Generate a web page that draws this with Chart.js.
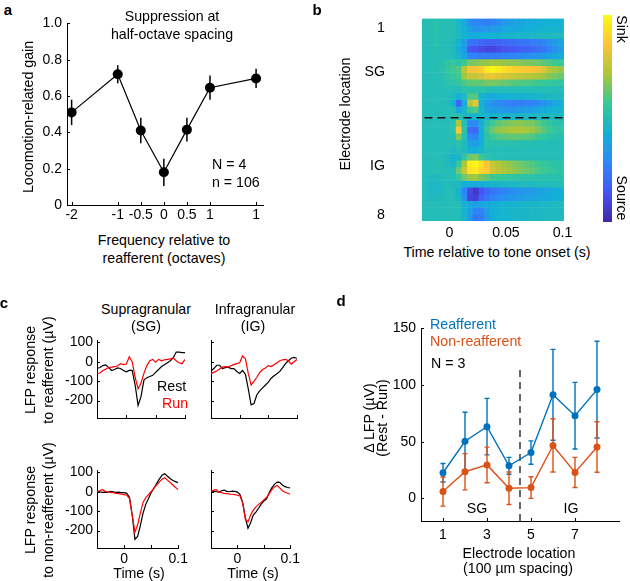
<!DOCTYPE html>
<html><head><meta charset="utf-8">
<script src="https://cdn.jsdelivr.net/npm/chart.js@4/dist/chart.umd.min.js"></script>
<style>
html,body{margin:0;padding:0;background:#fff;}
#root{position:relative;width:630px;height:581px;overflow:hidden;font-family:"Liberation Sans",Arial,Helvetica,sans-serif;color:#000;}
canvas{position:absolute;}
.t{position:absolute;white-space:nowrap;font-size:14.2px;line-height:1;transform:translate(-50%,-50%);z-index:5;}
.l{transform:translate(0,-50%);}
.rot{transform:translate(-50%,-50%) rotate(-90deg);}
.rotcw{transform:translate(-50%,-50%) rotate(90deg);}
.b{font-weight:bold;font-size:15px;}
</style></head><body><div id="root">
<div class="t b" style="left:8px;top:9px">a</div>
<div class="t" style="left:172px;top:15.5px">Suppression at</div>
<div class="t" style="left:172px;top:33.5px">half-octave spacing</div>
<div class="t l" style="left:212px;top:164px">N = 4</div>
<div class="t l" style="left:212px;top:182px">n = 106</div>
<div class="t rot" style="left:27.5px;top:117px">Locomotion-related gain</div>
<div class="t" style="left:164px;top:240px">Frequency relative to</div>
<div class="t" style="left:164px;top:258px">reafferent (octaves)</div>

<div class="t b" style="left:317px;top:9px">b</div>
<div class="t rot" style="left:345px;top:113.5px">Electrode location</div>
<div class="t" style="left:497px;top:252px">Time relative to tone onset (s)</div>
<div class="t rotcw" style="left:622px;top:29px">Sink</div>
<div class="t rotcw" style="left:622px;top:198px">Source</div>

<div class="t b" style="left:4px;top:302px">c</div>
<div class="t" style="left:146px;top:309px">Supragranular</div>
<div class="t" style="left:146px;top:326px">(SG)</div>
<div class="t" style="left:255px;top:309px">Infragranular</div>
<div class="t" style="left:253px;top:326px">(IG)</div>
<div class="t rot" style="left:30px;top:370px">LFP response</div>
<div class="t rot" style="left:48px;top:370px">to reafferent (µV)</div>
<div class="t rot" style="left:30px;top:510px">LFP response</div>
<div class="t rot" style="left:48px;top:510px">to non-reafferent (µV)</div>
<div class="t l" style="left:157px;top:386px">Rest</div>
<div class="t l" style="left:162px;top:403px;color:#ff0000">Run</div>
<div class="t" style="left:139px;top:573px">Time (s)</div>
<div class="t" style="left:253px;top:573px">Time (s)</div>

<div class="t b" style="left:341px;top:300px">d</div>
<div class="t l" style="left:430px;top:323.5px;color:#0072BD">Reafferent</div>
<div class="t l" style="left:430px;top:341px;color:#D95319">Non-reafferent</div>
<div class="t l" style="left:431px;top:363px">N = 3</div>
<div class="t" style="left:477px;top:508px">SG</div>
<div class="t" style="left:571px;top:508px">IG</div>
<div class="t rot" style="left:369px;top:418px">Δ LFP (µV)</div>
<div class="t rot" style="left:381.5px;top:418px">(Rest - Run)</div>
<div class="t" style="left:519px;top:552.5px">Electrode location</div>
<div class="t" style="left:518px;top:568px">(100 µm spacing)</div>
</div>
<script>
// ---------- Panel a data ----------
const aOctaves = [-2, -1, -0.5, 0, 0.5, 1, 2];
const aXTickLabels = ['-2', '-1', '-0.5', '0', '0.5', '1', '1'];
const aGain = [0.51, 0.72, 0.41, 0.18, 0.415, 0.646, 0.697];
const aGainErr = [0.07, 0.05, 0.07, 0.075, 0.065, 0.067, 0.053];
const aYTicks = [0, 0.2, 0.4, 0.6, 0.8, 1.0];
const aYTickLabels = ['0', '0.2', '0.4', '0.6', '0.8', '1.0'];

// ---------- Panel b data (CSD, 30 depth rows x 25 time bins, 0 = source ... 10 = sink) ----------
const csdTimes = [-0.0215,-0.0165,-0.0115,-0.0065,-0.0015,0.0035,0.0085,0.0135,0.0185,0.0235,0.0285,0.0335,0.0385,0.0435,0.0485,0.0535,0.0585,0.0635,0.0685,0.0735,0.0785,0.0835,0.0885,0.0935,0.0985];
const csdMatrix = [
 [5.0,5.1,5.3,5.0,5.1,5.0,4.6,4.0,3.0,2.8,2.8,2.6,2.8,3.0,3.4,3.6,3.8,3.8,4.0,4.0,4.2,4.2,4.3,4.3,4.4],
 [5.0,5.1,5.3,5.0,5.1,5.0,4.7,4.2,3.5,3.3,3.3,3.4,3.5,3.6,3.9,4.0,4.0,4.1,4.2,4.3,4.4,4.4,4.5,4.5,4.5],
 [5.0,5.1,5.2,5.0,5.1,5.0,4.8,4.4,4.2,4.2,4.3,4.3,4.4,4.4,4.5,4.5,4.6,4.6,4.6,4.7,4.7,4.8,4.8,4.8,4.8],
 [5.0,5.0,5.2,5.0,5.1,4.9,4.4,3.6,2.4,2.2,2.0,1.8,1.8,1.9,2.0,2.1,2.2,2.3,2.4,2.5,2.6,2.8,3.2,3.5,3.8],
 [5.0,5.0,5.1,5.0,5.0,4.8,4.2,3.4,1.6,1.4,1.2,1.0,1.0,1.2,1.4,1.5,1.6,1.8,1.9,2.0,2.2,2.4,2.8,3.2,3.5],
 [5.0,5.0,5.1,5.0,5.0,4.9,4.5,3.8,2.8,2.7,2.6,2.5,2.5,2.6,2.7,2.8,2.9,3.0,3.1,3.2,3.3,3.5,3.7,3.9,4.1],
 [5.0,5.0,5.1,5.1,5.4,5.6,5.4,5.8,6.5,6.6,6.8,6.9,7.0,7.0,6.9,6.8,6.8,6.7,6.6,6.5,6.4,6.2,6.0,5.8,5.7],
 [5.0,5.0,5.1,5.2,5.5,5.8,6.0,7.4,8.5,8.6,8.8,9.6,9.9,9.6,9.3,9.1,8.9,8.8,8.7,8.6,8.4,8.0,7.4,7.1,6.9],
 [5.0,5.0,5.1,5.1,5.4,5.6,5.8,7.0,7.6,7.6,7.8,8.2,8.3,8.1,7.9,7.8,7.6,7.5,7.4,7.3,7.2,7.0,6.7,6.5,6.3],
 [5.0,5.0,5.0,5.0,5.3,5.3,5.5,6.0,6.2,6.2,6.3,6.5,6.5,6.4,6.3,6.2,6.1,6.0,6.0,5.9,5.8,5.7,5.6,5.5,5.5],
 [5.0,5.0,5.0,5.0,5.0,5.0,5.0,5.3,5.3,5.3,5.3,5.1,5.0,5.0,5.0,5.0,5.0,5.0,5.0,5.0,5.0,5.0,5.0,5.0,5.0],
 [5.0,5.0,5.0,5.0,5.0,4.8,4.3,4.8,6.0,6.0,4.4,4.2,4.2,4.3,4.3,4.4,4.4,4.4,4.5,4.5,4.6,4.6,4.7,4.8,4.8],
 [5.0,5.0,5.0,5.0,4.9,4.4,1.8,4.0,7.4,8.2,4.3,3.6,3.2,3.0,2.8,2.7,2.6,2.6,2.7,2.8,3.0,3.3,3.6,3.9,4.2],
 [5.0,5.0,5.0,5.0,5.0,5.0,3.8,4.6,5.8,6.0,4.6,3.8,3.6,3.5,3.4,3.4,3.4,3.5,3.6,3.7,3.9,4.1,4.3,4.4,4.5],
 [5.0,5.0,5.0,5.0,5.0,5.2,5.2,4.8,4.4,4.4,4.6,4.5,4.5,4.5,4.6,4.6,4.6,4.6,4.7,4.7,4.7,4.8,4.8,4.8,4.8],
 [5.0,5.0,5.0,5.0,5.0,5.2,7.2,5.0,3.0,3.0,4.2,5.2,5.8,6.2,6.4,6.6,6.7,6.7,6.6,6.5,6.2,5.8,5.5,5.3,5.2],
 [5.0,5.0,5.0,5.0,5.0,5.3,8.6,5.4,2.2,2.0,4.0,5.6,6.4,6.8,7.0,7.1,7.2,7.2,7.1,6.9,6.6,6.2,5.8,5.5,5.4],
 [5.0,5.0,5.0,5.0,5.0,5.1,6.6,5.0,3.0,2.8,4.2,5.3,5.8,6.0,6.1,6.2,6.2,6.2,6.1,6.0,5.7,5.5,5.3,5.2,5.1],
 [5.0,5.0,5.0,5.0,5.0,5.0,5.3,4.8,3.8,3.6,4.2,5.2,5.2,5.2,5.2,5.2,5.2,5.1,5.1,5.1,5.0,5.0,5.0,5.0,5.0],
 [5.0,5.0,5.0,5.0,5.0,4.8,5.0,4.8,4.3,4.3,4.5,5.0,5.0,5.0,5.0,5.0,5.0,5.0,5.0,5.0,5.0,5.0,5.0,5.0,5.0],
 [5.0,5.0,5.0,5.0,4.8,4.5,4.6,5.6,6.4,6.6,5.8,5.3,5.1,5.0,5.0,5.0,5.0,5.0,5.0,5.0,5.0,5.0,5.0,5.0,5.0],
 [5.0,5.0,5.1,5.1,4.9,4.6,5.6,7.2,9.6,9.9,9.3,8.6,7.6,7.3,7.0,6.8,6.6,6.4,6.2,6.0,5.8,5.6,5.5,5.4,5.3],
 [5.0,5.0,5.1,5.1,5.0,5.0,6.4,7.6,9.4,9.6,9.0,8.8,7.8,7.4,7.2,7.0,6.8,6.6,6.4,6.2,6.0,5.8,5.6,5.5,5.4],
 [5.0,4.8,4.8,4.9,5.0,5.0,5.6,6.4,7.0,7.0,6.6,6.2,5.8,5.7,5.6,5.5,5.4,5.4,5.3,5.3,5.2,5.2,5.2,5.2,5.2],
 [5.0,4.7,4.7,4.8,5.0,4.8,4.8,4.2,4.2,4.0,4.2,4.4,4.5,4.6,4.6,4.7,4.7,4.8,4.8,4.8,4.9,4.9,4.9,5.0,5.0],
 [5.0,4.7,4.7,4.8,5.0,5.0,4.4,2.8,1.2,0.6,1.4,2.0,2.4,2.6,2.8,3.0,3.2,3.3,3.4,3.5,3.7,3.8,4.0,4.1,4.2],
 [5.0,4.8,4.8,4.9,5.0,5.0,4.6,3.2,1.0,0.8,1.8,2.4,2.8,3.0,3.2,3.4,3.5,3.6,3.7,3.8,3.9,4.0,4.1,4.2,4.3],
 [5.0,5.0,5.0,5.0,5.0,5.0,5.0,4.4,3.8,3.6,3.8,4.0,4.2,4.3,4.4,4.4,4.5,4.5,4.6,4.6,4.6,4.7,4.7,4.8,4.8],
 [5.0,5.0,5.0,5.0,5.0,5.0,5.0,4.4,3.6,2.8,2.8,3.6,4.2,4.4,4.5,4.5,4.6,4.6,4.6,4.7,4.7,4.7,4.8,4.8,4.8],
 [5.0,5.0,5.0,5.0,5.0,5.0,5.0,4.5,3.4,2.4,2.6,3.4,4.2,4.4,4.5,4.5,4.6,4.6,4.6,4.7,4.7,4.7,4.8,4.8,4.8]
];
const csdRowTicks = [1.46, 8.0, 21.8, 29.1];
const csdRowTickLabels = ['1', 'SG', 'IG', '8'];
const csdBoundary = 14.7;
const csdTimeTicks = [0, 0.05, 0.1];
const csdTimeTickLabels = ['0', '0.05', '0.1'];

// ---------- Panel c data ----------
const cTime = [-0.05,-0.045,-0.04,-0.035,-0.03,-0.025,-0.02,-0.015,-0.01,-0.005,0,0.005,0.01,0.015,0.02,0.025,0.03,0.035,0.04,0.045,0.05,0.055,0.06,0.065,0.07,0.075,0.08,0.085,0.09,0.095,0.1];
const cSGReafRest = [-35,-30,-20,-16,-30,-45,-40,-32,-35,-45,-52,-45,-45,-120,-225,-180,-95,-82,-76,-70,-55,-40,-25,-15,-5,5,20,50,50,47,47];
const cSGReafRun  = [-62,-58,-45,-38,-30,-28,-25,-22,-10,-15,-12,25,0,-80,-140,-110,-60,-20,5,12,-2,12,5,10,12,15,20,5,-5,-10,12];
const cIGReafRest = [-48,-35,-18,-18,-35,-30,-28,-35,-35,-50,-60,-45,-65,-140,-222,-215,-170,-150,-135,-120,-105,-85,-72,-62,-50,-30,-10,5,18,22,18];
const cIGReafRun  = [-62,-55,-48,-38,-28,-25,-28,-20,-15,-10,-5,30,15,-60,-120,-100,-80,-55,-40,-32,-20,-25,-15,-5,5,10,12,5,-12,0,12];
const cSGNonRest  = [2,0,-3,-2,-3,2,0,-3,-2,-5,-5,-8,-30,-120,-245,-230,-175,-110,-65,-35,-5,18,42,65,85,93,80,68,58,52,46];
const cSGNonRun   = [3,5,12,2,-2,-3,-5,-8,-10,-12,-15,-18,-35,-120,-208,-170,-110,-55,-30,-15,0,18,35,50,65,72,60,48,35,22,11];
const cIGNonRest  = [3,2,0,-2,5,8,2,0,3,2,-2,-15,-56,-135,-188,-160,-120,-105,-85,-64,-48,-38,-5,20,38,50,48,35,26,22,20];
const cIGNonRun   = [3,8,11,-2,-5,-8,-10,-12,-13,-15,-18,-22,-60,-140,-155,-120,-95,-78,-65,-55,-42,-30,-10,10,25,32,20,5,-3,-8,-13];
const cYTicks = [-200, -100, 0, 100];
const cYTickLabels = ['-200', '-100', '0', '100'];
const cXTicks = [0, 0.05, 0.1];
const cXTickLabels = ['0', '', '0.1'];

// ---------- Panel d data ----------
const dElectrode = [1, 2, 3, 4, 5, 6, 7, 8];
const dReafferent = [22.6, 50.4, 63.3, 28.7, 40.4, 91.4, 73.0, 96.0];
const dReafferentErr = [8.2, 25.6, 24.9, 7.5, 10.3, 40.1, 29.4, 42.7];
const dNonReafferent = [6.0, 23.5, 29.5, 8.9, 9.5, 46.7, 22.9, 45.3];
const dNonReafferentErr = [12.9, 16.0, 15.7, 14.3, 9.5, 23.5, 13.3, 22.3];
const dYTicks = [0, 50, 100, 150];
const dYTickLabels = ['0', '50', '100', '150'];
const dXTicks = [1, 3, 5, 7];
const dXTickLabels = ['1', '3', '5', '7'];
const dBoundary = 4.5;
const dBoundaryTop = 117;

// ---------- styling / helpers ----------
Chart.defaults.font.family = '"Liberation Sans", Arial, Helvetica, sans-serif';
Chart.defaults.font.size = 14;
Chart.defaults.color = '#000';
Chart.defaults.animation = false;
Chart.defaults.plugins.legend.display = false;
Chart.defaults.plugins.tooltip.enabled = false;

const parulaStops = [[62,38,168],[72,82,244],[46,135,247],[18,177,214],[55,200,151],[171,199,57],[254,195,56],[249,251,21]];
function parula(t) {
  t = Math.max(0, Math.min(1, t));
  const n = parulaStops.length - 1, f = t * n;
  const i = Math.min(n - 1, Math.floor(f)), u = f - i;
  const a = parulaStops[i], b = parulaStops[i + 1];
  return 'rgb(' + [0,1,2].map(k => Math.round(a[k] + (b[k] - a[k]) * u)).join(',') + ')';
}

function mk(id, left, top, w, h) {
  const c = document.createElement('canvas');
  c.id = id; c.width = w; c.height = h;
  c.style.left = left + 'px'; c.style.top = top + 'px';
  c.style.width = w + 'px'; c.style.height = h + 'px';
  document.getElementById('root').appendChild(c);
  return c.getContext('2d');
}

const inTicks = {
  id: 'inTicks',
  afterDraw(chart, args, opts) {
    if (!opts || !opts.len) return;
    const ctx = chart.ctx;
    ctx.save(); ctx.strokeStyle = '#000'; ctx.lineWidth = 1;
    ['x', 'y'].forEach(id => {
      const s = chart.scales[id];
      if (!s || !s.options.display) return;
      s.ticks.forEach(t => {
        const p = Math.round(s.getPixelForValue(t.value)) + 0.5;
        ctx.beginPath();
        if (s.isHorizontal()) { ctx.moveTo(p, s.top); ctx.lineTo(p, s.top - opts.len); }
        else { ctx.moveTo(s.right, p); ctx.lineTo(s.right + opts.len, p); }
        ctx.stroke();
      });
    });
    ctx.restore();
  }
};

const errBars = {
  id: 'errBars',
  beforeDatasetsDraw(chart, args, opts) {
    if (!opts || !opts.sets) return;
    const {ctx, scales: {x, y}} = chart;
    opts.sets.forEach(set => {
      ctx.save(); ctx.strokeStyle = set.color; ctx.lineWidth = set.width || 1.5;
      set.xs.forEach((xv, i) => {
        const px = x.getPixelForValue(xv);
        const top = y.getPixelForValue(set.ys[i] + set.err[i]);
        const bot = y.getPixelForValue(set.ys[i] - set.err[i]);
        ctx.beginPath(); ctx.moveTo(px, top); ctx.lineTo(px, bot);
        if (set.cap) {
          ctx.moveTo(px - set.cap, top); ctx.lineTo(px + set.cap, top);
          ctx.moveTo(px - set.cap, bot); ctx.lineTo(px + set.cap, bot);
        }
        ctx.stroke();
      });
      ctx.restore();
    });
  }
};

function axis(o) {
  const horiz = o.pos === 'bottom';
  return {
    type: 'linear', position: o.pos, min: o.min, max: o.max, reverse: !!o.reverse,
    display: o.display !== false,
    grid: {display: true, drawOnChartArea: false, drawTicks: false},
    border: {display: o.border !== false, color: '#000', width: 1},
    afterFit: s => { if (horiz) s.height = o.size; else s.width = o.size; },
    afterBuildTicks: s => { s.ticks = o.ticks.map(v => ({value: v})); },
    ticks: {padding: o.pad, autoSkip: false, maxRotation: 0, minRotation: 0,
      font: {size: o.font || 14},
      callback: (v, i) => o.labels[i]}
  };
}

// ---------- Panel a ----------
new Chart(mk('ca', 20, 10, 255, 217), {
  type: 'line',
  data: {datasets: [{
    data: aOctaves.map((x, i) => ({x: x, y: aGain[i]})),
    borderColor: '#000', backgroundColor: '#000', borderWidth: 1.2,
    pointRadius: 5, pointBackgroundColor: '#000', pointBorderWidth: 0, tension: 0
  }]},
  options: {
    responsive: false,
    layout: {padding: {top: 11, right: 12, left: 0, bottom: 0}},
    scales: {
      x: axis({pos: 'bottom', min: -2.1, max: 2.15, ticks: aOctaves, labels: aXTickLabels, size: 22, pad: 2}),
      y: axis({pos: 'left', min: 0, max: 1, ticks: aYTicks, labels: aYTickLabels, size: 47, pad: 5})
    },
    plugins: {inTicks: {len: 3}, errBars: {sets: [{xs: aOctaves, ys: aGain, err: aGainErr, color: '#000', width: 1.5}]}}
  },
  plugins: [inTicks, errBars]
});

// ---------- Panel b (heatmap) ----------
const csdDatasets = csdMatrix.map((row, r) => ({
  type: 'bar',
  data: csdTimes.map(t => ({x: t, y: [r, r + 1]})),
  backgroundColor: row.map(v => parula(v / 10)),
  borderWidth: 0, barPercentage: 1.0, categoryPercentage: 1.0, grouped: false, order: 1
}));
csdDatasets.push({
  type: 'line',
  data: [{x: -0.022, y: csdBoundary}, {x: 0.1, y: csdBoundary}],
  borderColor: '#111', borderWidth: 1.6, borderDash: [8, 5], pointRadius: 0, order: -1
});
new Chart(mk('cb', 345, 5, 260, 238), {
  type: 'bar',
  data: {datasets: csdDatasets},
  options: {
    responsive: false,
    layout: {padding: {top: 10, right: 8, left: 0, bottom: 0}},
    scales: {
      x: axis({pos: 'bottom', min: -0.022, max: 0.1, ticks: csdTimeTicks, labels: csdTimeTickLabels, size: 22, pad: 4, font: 14.2, border: false}),
      y: axis({pos: 'left', min: 0, max: 30, reverse: true, ticks: csdRowTicks, labels: csdRowTickLabels, size: 45, pad: 5, font: 14.2, border: false})
    }
  }
});

// colorbar
new Chart(mk('cbar', 603, 15, 9, 207), {
  type: 'bar',
  data: {labels: [''], datasets: [{
    data: [1], borderWidth: 0, barPercentage: 1, categoryPercentage: 1,
    backgroundColor: c => {
      const {ctx, chartArea} = c.chart;
      if (!chartArea) return '#888';
      const g = ctx.createLinearGradient(0, chartArea.bottom, 0, chartArea.top);
      parulaStops.forEach((s, i) => g.addColorStop(i / (parulaStops.length - 1), 'rgb(' + s.join(',') + ')'));
      return g;
    }
  }]},
  options: {
    responsive: false, layout: {padding: 0},
    scales: {x: {display: false}, y: {display: false, min: 0, max: 1}}
  }
});

// ---------- Panel c ----------
function cChart(id, left, top, w, rest, run, showY, showX) {
  new Chart(mk(id, left, top, w, 108), {
    type: 'line',
    data: {datasets: [
      {data: cTime.map((t, i) => ({x: t, y: run[i]})), borderColor: '#ff0000', borderWidth: 1.2, pointRadius: 0, tension: 0},
      {data: cTime.map((t, i) => ({x: t, y: rest[i]})), borderColor: '#000', borderWidth: 1.2, pointRadius: 0, tension: 0}
    ]},
    options: {
      responsive: false,
      layout: {padding: {top: 5, right: 6, left: 0, bottom: 0}},
      scales: {
        x: axis({pos: 'bottom', min: -0.05, max: 0.1, ticks: cXTicks, labels: showX ? cXTickLabels : ['', '', ''], size: 18, pad: 3}),
        y: axis({pos: 'left', min: -290, max: 110, ticks: cYTicks, labels: showY ? cYTickLabels : ['', '', '', ''], size: 37, pad: 4})
      },
      plugins: {inTicks: {len: 3}}
    },
    plugins: [inTicks]
  });
}
cChart('cc1', 60, 328, 131, cSGReafRest, cSGReafRun, true, false);
cChart('cc2', 174, 328, 129, cIGReafRest, cIGReafRun, false, false);
cChart('cc3', 60, 458, 131, cSGNonRest, cSGNonRun, true, true);
cChart('cc4', 174, 458, 129, cIGNonRest, cIGNonRun, false, true);

// ---------- Panel d ----------
new Chart(mk('cd', 375, 315, 252, 228), {
  type: 'line',
  data: {datasets: [
    {data: dElectrode.map((e, i) => ({x: e, y: dReafferent[i]})), borderColor: '#0072BD', backgroundColor: '#0072BD',
     borderWidth: 1.4, pointRadius: 3.5, pointBorderWidth: 0, tension: 0},
    {data: dElectrode.map((e, i) => ({x: e, y: dNonReafferent[i]})), borderColor: '#D95319', backgroundColor: '#D95319',
     borderWidth: 1.4, pointRadius: 3.5, pointBorderWidth: 0, tension: 0},
    {data: [{x: dBoundary, y: -20}, {x: dBoundary, y: dBoundaryTop}], borderColor: '#000', borderWidth: 1.2,
     borderDash: [7, 5], pointRadius: 0}
  ]},
  options: {
    responsive: false,
    layout: {padding: {top: 10, right: 8, left: 0, bottom: 0}},
    scales: {
      x: axis({pos: 'bottom', min: 0, max: 9, ticks: dXTicks, labels: dXTickLabels, size: 22, pad: 6}),
      y: axis({pos: 'left', min: -20, max: 150, ticks: dYTicks, labels: dYTickLabels, size: 46, pad: 5})
    },
    plugins: {inTicks: {len: 3}, errBars: {sets: [
      {xs: dElectrode, ys: dReafferent, err: dReafferentErr, color: '#0072BD', width: 1.4, cap: 2.5},
      {xs: dElectrode, ys: dNonReafferent, err: dNonReafferentErr, color: '#D95319', width: 1.4, cap: 2.5}
    ]}}
  },
  plugins: [inTicks, errBars]
});
</script>
</body></html>
